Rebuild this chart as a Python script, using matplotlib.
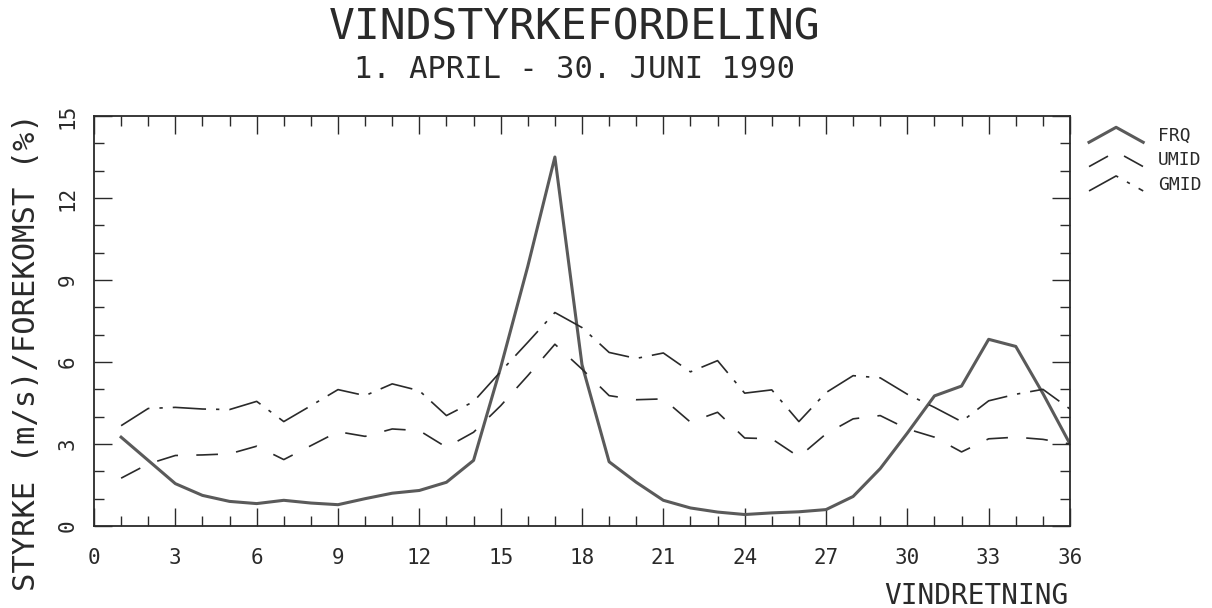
import matplotlib
matplotlib.use("Agg")
import matplotlib.pyplot as plt
from matplotlib.lines import Line2D
from matplotlib.legend_handler import HandlerLine2D
from matplotlib.ticker import MultipleLocator

plt.rcParams['font.family'] = ['DejaVu Sans Mono', 'DejaVu Sans']

# vindretning i sektorer (1..36) og verdier per sektor
retning = list(range(1, 37))
frq = [3.25, 2.4, 1.55, 1.12, 0.9, 0.82, 0.94, 0.84, 0.78, 1.0, 1.2, 1.3,
       1.6, 2.4, 5.8, 9.5, 13.5, 5.9, 2.35, 1.6, 0.94, 0.66, 0.51, 0.42,
       0.48, 0.52, 0.6, 1.08, 2.1, 3.4, 4.76, 5.12, 6.83, 6.57, 4.85, 3.0]
umid = [1.75, 2.27, 2.58, 2.6, 2.64, 2.92, 2.43, 2.94, 3.45, 3.28, 3.55, 3.49,
        2.88, 3.43, 4.4, 5.5, 6.65, 5.74, 4.77, 4.62, 4.65, 3.8, 4.16, 3.22,
        3.19, 2.53, 3.37, 3.92, 4.04, 3.55, 3.25, 2.71, 3.19, 3.25, 3.17, 3.0]
gmid = [3.67, 4.3, 4.34, 4.28, 4.26, 4.56, 3.82, 4.4, 4.99, 4.77, 5.2, 4.95,
        4.04, 4.55, 5.65, 6.72, 7.81, 7.26, 6.35, 6.13, 6.33, 5.64, 6.05, 4.86,
        4.98, 3.82, 4.88, 5.5, 5.42, 4.82, 4.34, 3.82, 4.58, 4.82, 5.0, 4.28]
xticks = list(range(0, 37, 3))
yticks = list(range(0, 16, 3))


class Chevron(HandlerLine2D):
    # legendesymbol som en liten "/\"
    def create_artists(self, legend, orig_handle, xdescent, ydescent,
                       width, height, fontsize, trans):
        x0 = -xdescent
        y0 = -ydescent
        line = Line2D([x0, x0 + width / 2, x0 + width],
                      [y0, y0 + height, y0])
        self.update_prop(line, orig_handle, legend)
        line.set_transform(trans)
        return [line]


W, H = 1212, 608
fig = plt.figure(figsize=(W / 100, H / 100), dpi=100)
ax = fig.add_axes([94 / W, 1 - 526 / H, (1070 - 94) / W, (526 - 116) / H])

ink = '#2a2a2a'
l1, = ax.plot(retning, frq, color='#5a5a5a', lw=2.2, label='FRQ')
l2, = ax.plot(retning, umid, color=ink, lw=1.2, dashes=(13, 11), label='UMID')
l3, = ax.plot(retning, gmid, color=ink, lw=1.2, dashes=(20, 6, 2, 6), label='GMID')

ax.set_xlim(0, 36)
ax.set_ylim(0, 15)
ax.set_xticks(xticks)
ax.set_yticks(yticks)
ax.xaxis.set_minor_locator(MultipleLocator(1))
ax.yaxis.set_minor_locator(MultipleLocator(1))
ax.tick_params(which='both', direction='in', top=True, right=True,
               color=ink, width=1.0)
ax.tick_params(which='major', length=13)
ax.tick_params(which='minor', length=7)
ax.tick_params(axis='x', labelsize=15, pad=16, labelcolor=ink)
ax.tick_params(axis='y', labelsize=15, pad=12, labelcolor=ink, labelrotation=90)
for t in ax.get_yticklabels():
    t.set_va('center')
for s in ax.spines.values():
    s.set_color(ink)
    s.set_linewidth(1.3)

fig.text(575 / W, 1 - 28 / H, 'VINDSTYRKEFORDELING', ha='center', va='center',
         fontsize=31, color=ink)
fig.text(575 / W, 1 - 69 / H, '1. APRIL - 30. JUNI 1990', ha='center',
         va='center', fontsize=22, color=ink)
fig.text(1068 / W, 1 - 596 / H, 'VINDRETNING', ha='right', va='center',
         fontsize=20, color=ink)
fig.text(27 / W, 1 - 113 / H, 'STYRKE (m/s)/FOREKOMST (%)', rotation=90,
         ha='center', va='top', fontsize=22, color=ink)

fig.legend(handles=[l1, l2, l3], loc='upper left',
           bbox_to_anchor=(1080 / W, 1 - 118 / H), frameon=False,
           fontsize=13, handlelength=3.0, handleheight=0.9,
           handletextpad=0.8, labelspacing=0.35, borderpad=0,
           labelcolor=ink, handler_map={Line2D: Chevron()})

fig.savefig('out.png', dpi=100, facecolor='white')
